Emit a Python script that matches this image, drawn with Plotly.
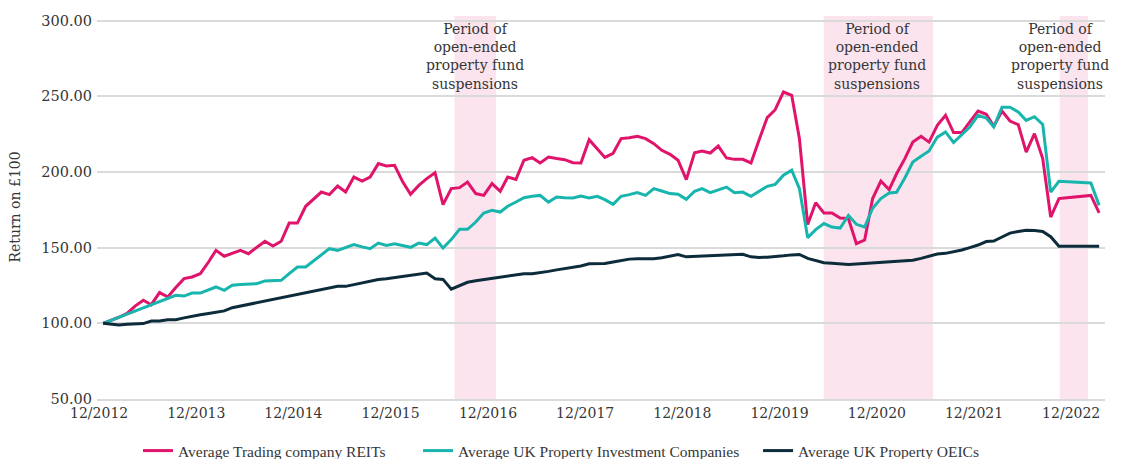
import pandas as pd
import plotly.graph_objects as go

# month-end observations, 12/2012 .. 03/2023
months = pd.date_range("2012-12-01", periods=124, freq="MS") + pd.offsets.MonthEnd(0)

reits = [
    100, 102, 104, 106.5, 111.4, 115.2, 112.3, 120.3, 117.4, 123.6,
    129.5, 130.6, 132.8, 140.5, 148.2, 144.3, 146, 148.2, 146, 150.4,
    154.2, 151.1, 154.2, 166.2, 166.2, 177.3, 181.9, 186.7, 185, 190.7,
    186.7, 196.6, 194, 196.6, 205.5, 203.9, 204.4, 193.3, 185.2, 191.1,
    195.6, 199.5, 178.4, 189, 189.6, 193.3, 185.7, 184.5, 192.3, 187.2,
    196.6, 195.1, 207.7, 209.4, 205.9, 209.8, 208.8, 208.1, 206.1, 205.9,
    221.3, 215.4, 209.6, 212.3, 222, 222.6, 223.5, 222, 218.7, 214.3,
    211.6, 207.7, 194.9, 212.7, 213.8, 212.5, 217.1, 209.2, 208.3, 208.3,
    205.9, 220.9, 235.9, 241.1, 252.8, 250.6, 222, 165.2, 179.7, 172.9,
    172.9, 169.6, 169.2, 152.6, 155, 182.4, 194, 188.3, 198.8, 208.8,
    219.7, 223.5, 219.7, 230.8, 237.4, 226, 226, 233, 240.2, 238.1,
    230.1, 240.2, 233.6, 231.2, 213.1, 225.3, 208.8, 170.2, 182.4, 182.9,
    183.5, 184, 184.5, 172.9,
]

property_cos = [
    100, 102.1, 104.1, 106.2, 108.2, 110.3, 112.3, 114.4, 116.4, 118.5,
    118, 120, 120, 122.3, 124, 121.8, 125.1, 125.6, 125.8, 126.2,
    128, 128.4, 128.4, 132.8, 137.2, 137.2, 141, 145, 149.3, 148.2,
    150, 152, 150.5, 149.3, 153, 151.5, 152.6, 151.5, 150.2, 153,
    152, 156.3, 149.7, 155.3, 162.1, 162.1, 166.9, 172.9, 174.6, 173.5,
    177.3, 180.1, 183, 183.9, 184.5, 180.1, 183.4, 183, 182.8, 184.1,
    182.8, 183.9, 181.7, 178.6, 183.9, 185, 186.3, 184.5, 189, 187.4,
    185.7, 185.2, 181.9, 187.2, 189, 186.3, 188.3, 190, 186.3, 186.7,
    183.9, 187.2, 190.5, 191.8, 197.8, 201.1, 189, 156.6, 161.9, 165.9,
    163.6, 162.9, 171.3, 165.4, 163.6, 176, 182.4, 186.1, 186.5, 196,
    206.5, 210.3, 213.8, 223, 226.4, 219.4, 224.8, 229.7, 237.4, 235.6,
    229.7, 242.8, 242.8, 239.6, 234, 236.5, 231.4, 186.7, 193.8, 193.5,
    193.2, 193, 192.7, 177.9,
]

oeics = [
    100, 99.4, 98.9, 99.3, 99.6, 99.8, 101.5, 101.5, 102.4, 102.4,
    103.6, 104.8, 105.7, 106.5, 107.3, 108.2, 110.3, 111.4, 112.4, 113.3,
    114.4, 115.7, 116.9, 118.1, 119.2, 120.1, 121, 122, 123.2, 124.4,
    124.4, 125.6, 126.9, 128.2, 128.9, 129.5, 130.3, 131, 131.7, 132.4,
    133.2, 129.4, 129, 122.5, 125, 127.1, 128.1, 128.9, 129.7, 130.5,
    131.4, 132.2, 132.8, 132.8, 133.3, 134.3, 135.3, 136.2, 136.9, 137.9,
    139.3, 139.4, 139.5, 140.5, 141.4, 142.4, 142.7, 142.7, 142.7, 143.3,
    144.6, 145.4, 143.9, 144.2, 144.5, 144.7, 144.9, 145.1, 145.3, 145.6,
    143.9, 143.5, 143.7, 143.9, 144.6, 145.2, 145.5, 142.9, 141.3, 140,
    139.6, 139.1, 138.9, 139.2, 139.5, 139.9, 140.4, 140.7, 141, 141.3,
    141.6, 142.9, 144.5, 145.8, 146.2, 147.1, 148.4, 150, 151.7, 154,
    154.3, 157, 159.6, 160.7, 161.4, 161.3, 160.7, 157.2, 150.9, 150.9,
    150.9, 150.9, 150.9, 150.9,
]

series_values = [reits, property_cos, oeics]
series_names = [
    "Average Trading company REITs",
    "Average UK Property Investment Companies",
    "Average UK Property OEICs",
]
series_colors = ["#e0146b", "#17b5ad", "#0c2b3b"]

suspension_start = ["2016-08-12", "2020-05-30", "2022-11-03"]
suspension_end = ["2017-01-15", "2021-07-15", "2023-02-17"]
suspension_text = "Period of<br>open-ended<br>property fund<br>suspensions"
# label centres (the last one sits left of its band so it stays on the page)
suspension_label_x = ["2016-10-29", "2020-12-18", "2022-11-05"]

tick_years = list(range(2012, 2023))
y_ticks = [50, 100, 150, 200, 250, 300]

FONT = "DejaVu Serif"
LEGEND_FONT = "Liberation Serif"
TEXT = "#363636"
GRID = "#dadada"

fig = go.Figure()

# one legend per series so the entries can sit where the original has them
legend_ids = ["legend", "legend2", "legend3"]
legend_x = [0.0407, 0.3185, 0.6558]

for vals, name, color, lid in zip(series_values, series_names, series_colors, legend_ids):
    fig.add_trace(go.Scatter(
        x=months,
        y=vals,
        mode="lines",
        name=name,
        legend=lid,
        showlegend=True,
        line=dict(color=color, width=3),
    ))

for s, e, lx in zip(suspension_start, suspension_end, suspension_label_x):
    fig.add_shape(type="rect", xref="x", yref="paper", x0=s, x1=e, y0=0, y1=1,
                  fillcolor="#fbe4ee", line=dict(width=0), layer="below")
    fig.add_annotation(x=lx, y=0.894, xref="x", yref="paper", text=suspension_text,
                       showarrow=False, yanchor="middle",
                       font=dict(family=FONT, size=14, color=TEXT))

fig.add_annotation(x=-0.0823, y=0.5, xref="paper", yref="paper", text="Return on £100",
                   textangle=-90, showarrow=False, xanchor="center", yanchor="middle",
                   font=dict(family=FONT, size=14, color=TEXT))

legend_style = dict(orientation="h", y=-0.1358, yanchor="middle", xanchor="left",
                    font=dict(family=LEGEND_FONT, size=15.5, color=TEXT),
                    bgcolor="rgba(0,0,0,0)")

# the page body adds an 8px offset, so the figure is sized to fit inside the window
fig.update_layout(
    width=1116,
    height=451,
    margin=dict(l=89, r=19, t=8, b=60, autoexpand=False),
    plot_bgcolor="white",
    paper_bgcolor="white",
    showlegend=True,
    font=dict(family=FONT, color=TEXT),
    legend=dict(x=legend_x[0], **legend_style),
    legend2=dict(x=legend_x[1], **legend_style),
    legend3=dict(x=legend_x[2], **legend_style),
    xaxis=dict(
        range=["2012-12-08", "2023-04-22"],
        tickvals=[f"{y}-12-16" for y in tick_years],
        ticktext=[f"12/{y}" for y in tick_years],
        showgrid=False,
        showline=True,
        linecolor=GRID,
        linewidth=2,
        automargin=False,
        tickfont=dict(family=FONT, size=14, color=TEXT),
    ),
    yaxis=dict(
        range=[50, 303],
        tickvals=y_ticks,
        tickformat=".2f",
        gridcolor=GRID,
        gridwidth=2,
        zeroline=False,
        automargin=False,
        ticklabelstandoff=4,
        tickfont=dict(family=FONT, size=14.5, color=TEXT),
    ),
)

fig.write_html("out.html")
